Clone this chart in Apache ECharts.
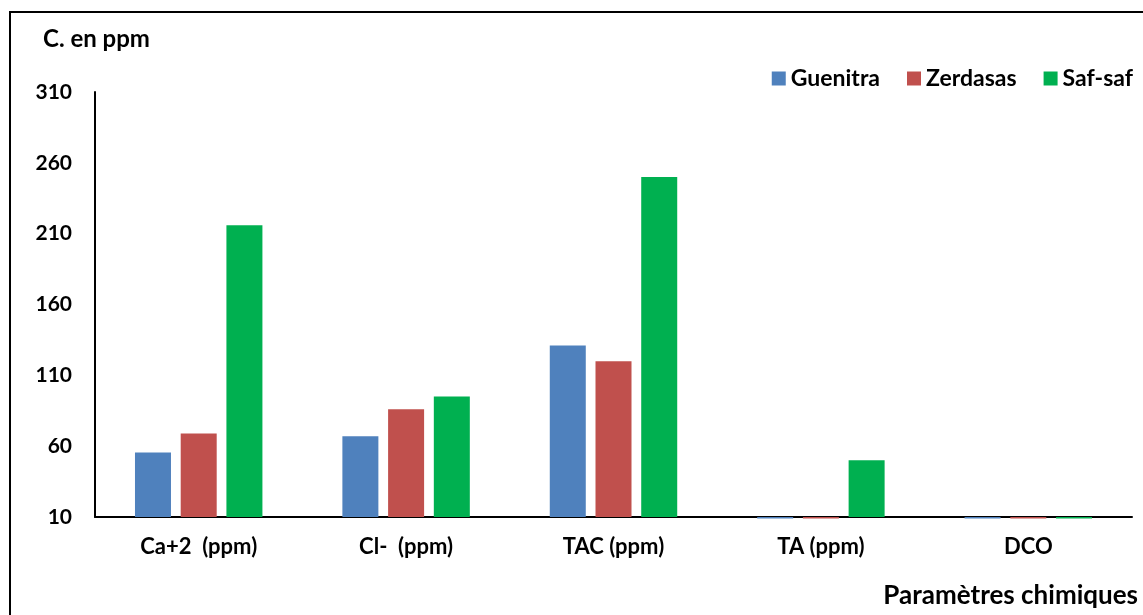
<!DOCTYPE html>
<html>
<head>
<meta charset="utf-8">
<script src="https://cdn.jsdelivr.net/npm/echarts@6/dist/echarts.min.js"></script>
<style>
html,body{margin:0;padding:0;background:#fff;overflow:hidden;}
#frame{position:absolute;left:9px;top:11px;width:1200px;height:700px;border-left:2px solid #000;border-top:2px solid #000;box-sizing:border-box;}
#chart{position:absolute;left:0;top:0;width:1143px;height:615px;}
</style>
</head>
<body>
<div id="frame"></div>
<div id="chart"></div>
<script>
const categories = ['Ca+2  (ppm)', 'Cl-  (ppm)', 'TAC (ppm)', 'TA (ppm)', 'DCO'];
const guenitra = [55.5, 67, 131, 9, 9];
const zerdasas = [69, 86, 120, 9, 9];
const safsaf = [216, 95, 250, 50, 9];
const yMin = 10, yMax = 310, yStep = 50;

const FONT = 'Lato';
const chart = echarts.init(document.getElementById('chart'), null, {renderer: 'canvas'});
const barCommon = {
  type: 'bar',
  barWidth: 36,
  barGap: '27%',
  clip: false
};
chart.setOption({
  animation: false,
  textStyle: {fontFamily: FONT},
  color: ['#4F81BD', '#C0504D', '#00B050'],
  title: [
    {text: 'C. en ppm', left: 38, top: 22, textStyle: {fontFamily: FONT, fontWeight: 'bold', fontSize: 24, color: '#000'}},
    {text: 'Paramètres chimiques', right: 0, top: 578, textStyle: {fontFamily: FONT, fontWeight: 'bold', fontSize: 26, color: '#000'}}
  ],
  legend: {
    right: 5, top: 62,
    itemWidth: 14, itemHeight: 14, itemGap: 27,
    icon: 'rect',
    textStyle: {fontFamily: FONT, fontWeight: 'bold', fontSize: 23, color: '#000'},
    data: ['Guenitra', 'Zerdasas', 'Saf-saf']
  },
  grid: {left: 95, right: 11, top: 92, bottom: 98, containLabel: false},
  xAxis: {
    type: 'category',
    data: categories,
    axisLine: {lineStyle: {color: '#000', width: 2}},
    axisTick: {show: false},
    axisLabel: {fontFamily: FONT, fontWeight: 'bold', fontSize: 22, color: '#000', margin: 19}
  },
  yAxis: {
    type: 'value',
    min: yMin, max: yMax, interval: yStep,
    startValue: yMin,
    axisLine: {show: true, lineStyle: {color: '#000', width: 2}},
    axisTick: {show: false},
    splitLine: {show: false},
    axisLabel: {fontFamily: FONT, fontWeight: 'bold', fontSize: 21, color: '#000', margin: 23}
  },
  series: [
    Object.assign({name: 'Guenitra', data: guenitra}, barCommon),
    Object.assign({name: 'Zerdasas', data: zerdasas}, barCommon),
    Object.assign({name: 'Saf-saf', data: safsaf}, barCommon)
  ]
});
</script>
</body>
</html>
